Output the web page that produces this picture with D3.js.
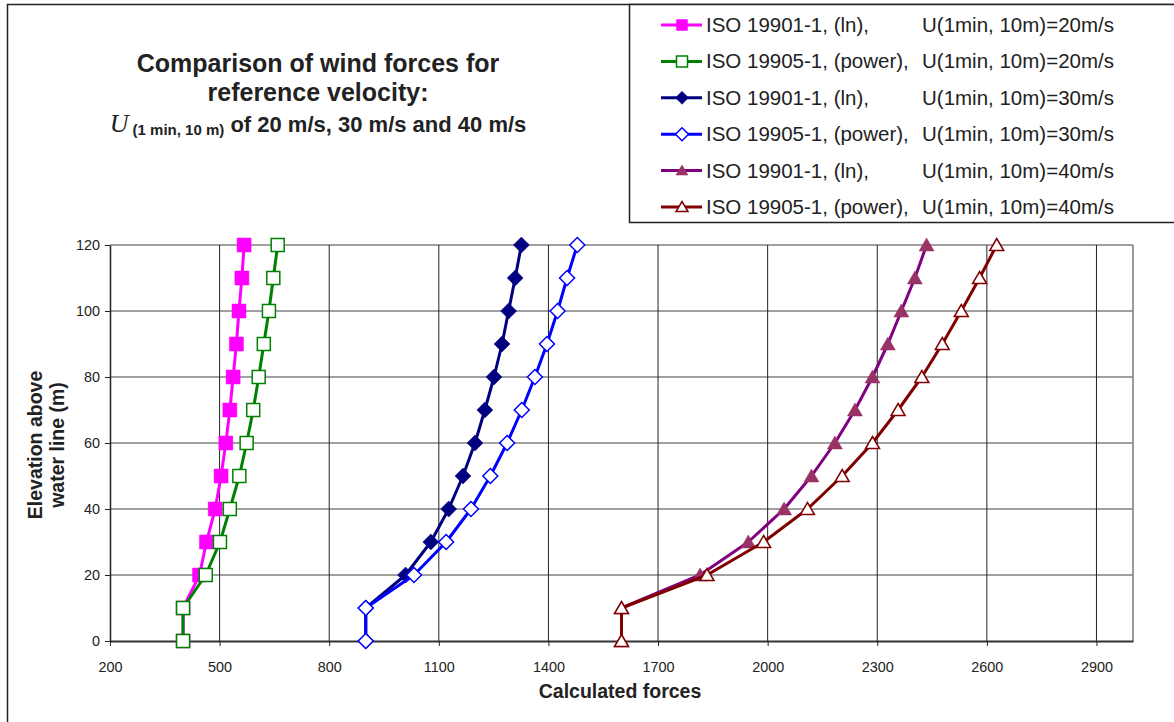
<!DOCTYPE html>
<html>
<head>
<meta charset="utf-8">
<script src="https://cdn.jsdelivr.net/npm/d3@7"></script>
<style>
  html, body { margin: 0; padding: 0; background: #fff; }
  svg text { font-family: "Liberation Sans", Arial, sans-serif; fill: #222; }
</style>
</head>
<body>
<div class="chart"></div>
<script>
(() => {
  // elevation above water line (m)
  const elevations = [0, 10, 20, 30, 40, 50, 60, 70, 80, 90, 100, 110, 120];

  // calculated forces
  const ln20 = [400, 400, 445, 464, 488, 504, 517, 528, 537, 546, 553, 561, 567];
  const pow20 = [400, 400, 462, 501, 528, 554, 574, 592, 607, 621, 635, 647, 659];
  const ln30 = [900, 900, 1009, 1078, 1127, 1166, 1199, 1226, 1251, 1273, 1291, 1309, 1326];
  const pow30 = [900, 900, 1032, 1120, 1188, 1241, 1287, 1327, 1363, 1396, 1425, 1451, 1479];
  const ln40 = [1600, 1600, 1815, 1947, 2045, 2120, 2184, 2239, 2287, 2329, 2366, 2403, 2435];
  const pow40 = [1600, 1600, 1834, 1989, 2109, 2204, 2287, 2357, 2422, 2478, 2530, 2580, 2627];

  const xTicks = [200, 500, 800, 1100, 1400, 1700, 2000, 2300, 2600, 2900];
  const yTicks = [0, 20, 40, 60, 80, 100, 120];

  const legendNames = [
    "ISO 19901-1, (ln),",
    "ISO 19905-1, (power),",
    "ISO 19901-1, (ln),",
    "ISO 19905-1, (power),",
    "ISO 19901-1, (ln),",
    "ISO 19905-1, (power),",
  ];
  const legendSpeeds = [
    "U(1min, 10m)=20m/s",
    "U(1min, 10m)=20m/s",
    "U(1min, 10m)=30m/s",
    "U(1min, 10m)=30m/s",
    "U(1min, 10m)=40m/s",
    "U(1min, 10m)=40m/s",
  ];

  const series = [
    { values: ln20, line: "#ff00ff", marker: "square", fill: "#ff00ff", stroke: "#ff00ff" },
    { values: pow20, line: "#008000", marker: "square", fill: "#fff", stroke: "#008000" },
    { values: ln30, line: "#000080", marker: "diamond", fill: "#000080", stroke: "#000080" },
    { values: pow30, line: "#0000ff", marker: "diamond", fill: "#fff", stroke: "#0000ff" },
    { values: ln40, line: "#800080", marker: "triangle", fill: "#993366", stroke: "#993366" },
    { values: pow40, line: "#800000", marker: "triangle", fill: "#fff", stroke: "#800000" },
  ];

  const width = 1174;
  const height = 722;
  const plot = { left: 110, right: 1133, top: 245, bottom: 641 };

  const svg = d3
    .select(".chart")
    .append("svg")
    .attr("width", width)
    .attr("height", height);

  // chart area border (runs off the picture on the right and bottom)
  svg
    .append("rect")
    .attr("x", 7.5)
    .attr("y", 4.5)
    .attr("width", 1200)
    .attr("height", 740)
    .attr("fill", "#fff")
    .attr("stroke", "#222")
    .attr("stroke-width", 1.5);

  const x = d3.scaleLinear().domain([200, 3000]).range([plot.left, plot.right]);
  const y = d3.scaleLinear().domain([0, 120]).range([plot.bottom, plot.top]);

  // grid
  svg
    .append("g")
    .selectAll("line")
    .data(yTicks.filter((t) => t > 0))
    .join("line")
    .attr("x1", plot.left)
    .attr("x2", plot.right)
    .attr("y1", (d) => y(d))
    .attr("y2", (d) => y(d))
    .attr("stroke", "#808080")
    .attr("stroke-width", 1.6);

  svg
    .append("g")
    .selectAll("line")
    .data(xTicks.filter((t) => t > 200))
    .join("line")
    .attr("x1", (d) => x(d))
    .attr("x2", (d) => x(d))
    .attr("y1", plot.top)
    .attr("y2", plot.bottom)
    .attr("stroke", "#222")
    .attr("stroke-width", 1);

  svg
    .append("line")
    .attr("x1", plot.right)
    .attr("x2", plot.right)
    .attr("y1", plot.top)
    .attr("y2", plot.bottom)
    .attr("stroke", "#808080")
    .attr("stroke-width", 1.6);

  // axes
  const xAxis = svg
    .append("g")
    .attr("transform", `translate(0,${plot.bottom})`)
    .call(
      d3
        .axisBottom(x)
        .tickValues(xTicks)
        .tickFormat(d3.format("d"))
        .tickSize(5)
        .tickSizeOuter(0)
        .tickPadding(16)
    );
  xAxis.select(".domain").attr("stroke", "#333").attr("stroke-width", 2);
  xAxis.selectAll(".tick line").attr("stroke", "#222");
  xAxis.selectAll(".tick text").style("font-size", "14.4px").attr("fill", "#222");

  const yAxis = svg
    .append("g")
    .attr("transform", `translate(${plot.left},0)`)
    .call(d3.axisLeft(y).tickValues(yTicks).tickSize(5).tickSizeOuter(0).tickPadding(5));
  yAxis.select(".domain").attr("stroke", "#222").attr("stroke-width", 1.5);
  yAxis.selectAll(".tick line").attr("stroke", "#222");
  yAxis.selectAll(".tick text").style("font-size", "14.4px").attr("fill", "#222");

  // axis titles
  svg
    .append("text")
    .attr("x", 620)
    .attr("y", 698)
    .attr("text-anchor", "middle")
    .style("font-size", "19.5px")
    .style("font-weight", "bold")
    .text("Calculated forces");

  const yTitle = svg
    .append("text")
    .attr("transform", "translate(42,445) rotate(-90)")
    .attr("text-anchor", "middle")
    .style("font-size", "19.5px")
    .style("font-weight", "bold");
  yTitle.append("tspan").attr("x", 0).attr("y", 0).text("Elevation above");
  yTitle.append("tspan").attr("x", 0).attr("y", 22).text("water line (m)");

  // markers
  function markerPath(kind, s) {
    const h = s / 2;
    if (kind === "square") return `M${-h},${-h}H${h}V${h}H${-h}Z`;
    if (kind === "diamond") return `M0,${-h - 1}L${h + 1},0L0,${h + 1}L${-h - 1},0Z`;
    return `M0,${-h}L${h + 0.5},${h - 1}L${-h - 0.5},${h - 1}Z`;
  }

  const line = d3
    .line()
    .x((d) => x(d[0]))
    .y((d) => y(d[1]));

  series.forEach((s) => {
    const pts = s.values.map((v, i) => [v, elevations[i]]);
    const g = svg.append("g");
    g.append("path")
      .attr("d", line(pts))
      .attr("fill", "none")
      .attr("stroke", s.line)
      .attr("stroke-width", 3)
      .attr("stroke-linejoin", "round");
    g.selectAll("path.mk")
      .data(pts)
      .join("path")
      .attr("class", "mk")
      .attr("transform", (d) => `translate(${x(d[0])},${y(d[1])})`)
      .attr("d", markerPath(s.marker, s.fill === "#fff" ? 13 : 14))
      .attr("fill", s.fill)
      .attr("stroke", s.stroke)
      .attr("stroke-width", s.fill === "#fff" ? 1.5 : 0.5);
  });

  // title
  const title = svg
    .append("text")
    .attr("text-anchor", "middle")
    .style("font-size", "25px")
    .style("font-weight", "bold");
  title.append("tspan").attr("x", 318).attr("y", 72).text("Comparison of wind forces for");
  title.append("tspan").attr("x", 318).attr("y", 101).text("reference velocity:");
  const t3 = title.append("tspan").attr("x", 318).attr("y", 132).style("font-size", "22px");
  t3.append("tspan")
    .style("font-family", "'Liberation Serif', 'Times New Roman', serif")
    .style("font-style", "italic")
    .style("font-weight", "normal")
    .style("font-size", "26px")
    .text("U");
  t3.append("tspan").style("font-size", "15px").attr("dy", 3).text(" (1 min, 10 m)");
  t3.append("tspan").attr("dy", -3).text(" of 20 m/s, 30 m/s and 40 m/s");

  // legend
  const legend = svg.append("g");
  legend
    .append("rect")
    .attr("x", 629.5)
    .attr("y", 4.5)
    .attr("width", 600)
    .attr("height", 218)
    .attr("fill", "#fff")
    .attr("stroke", "#222")
    .attr("stroke-width", 1.5);

  const rows = legend
    .selectAll("g.row")
    .data(series)
    .join("g")
    .attr("class", "row")
    .attr("transform", (d, i) => `translate(0,${25 + i * 36.4})`);
  rows
    .append("line")
    .attr("x1", 661)
    .attr("x2", 702)
    .attr("stroke", (d) => d.line)
    .attr("stroke-width", 3);
  rows
    .append("path")
    .attr("transform", "translate(682,0)")
    .attr("d", (d) => markerPath(d.marker, 11))
    .attr("fill", (d) => d.fill)
    .attr("stroke", (d) => d.stroke)
    .attr("stroke-width", (d) => (d.fill === "#fff" ? 1.5 : 0.5));
  rows
    .append("text")
    .attr("x", 706)
    .attr("y", 7)
    .style("font-size", "20.5px")
    .text((d, i) => legendNames[i]);
  rows
    .append("text")
    .attr("x", 922)
    .attr("y", 7)
    .style("font-size", "20.5px")
    .text((d, i) => legendSpeeds[i]);
})();
</script>
</body>
</html>
